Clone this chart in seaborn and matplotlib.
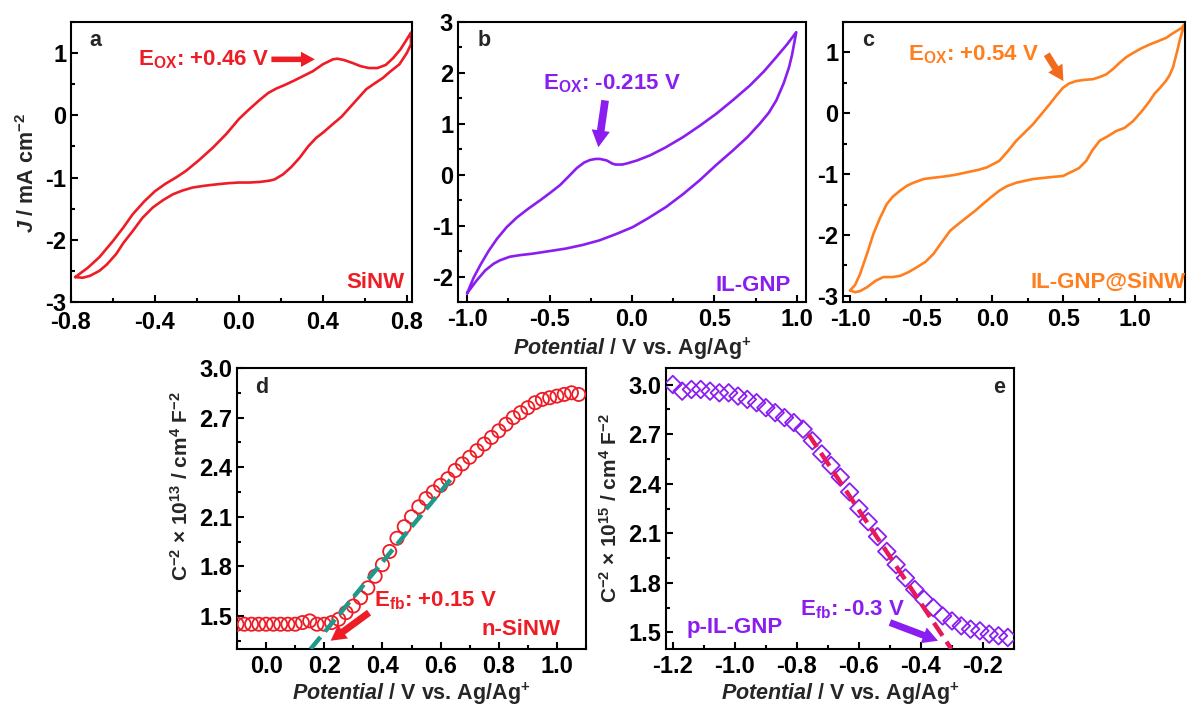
import numpy as np
import pandas as pd
import matplotlib
matplotlib.use("Agg")
import matplotlib.pyplot as plt
import seaborn as sns
from matplotlib.ticker import MultipleLocator, FormatStrFormatter

# ---------------- data ----------------
# Panel a: SiNW CV loop (forward then reverse)
a_fwd_x = [-0.78, -0.72, -0.665, -0.6, -0.55, -0.506, -0.45, -0.4, -0.35, -0.3, -0.251, -0.19, -0.124,
           -0.06, 0.0, 0.05, 0.1, 0.14, 0.178, 0.22, 0.258, 0.30, 0.353, 0.40, 0.448, 0.47, 0.50,
           0.543, 0.58, 0.62, 0.66, 0.70, 0.735, 0.77, 0.80, 0.82]
a_fwd_y = [-2.60, -2.45, -2.28, -2.02, -1.80, -1.59, -1.38, -1.22, -1.10, -1.00, -0.89, -0.72, -0.52,
           -0.30, -0.06, 0.10, 0.25, 0.36, 0.43, 0.49, 0.55, 0.62, 0.71, 0.82, 0.90, 0.91, 0.89,
           0.84, 0.79, 0.76, 0.76, 0.81, 0.92, 1.06, 1.22, 1.33]
a_rev_x = [0.82, 0.80, 0.765, 0.72, 0.686, 0.65, 0.607, 0.567, 0.527, 0.49, 0.448, 0.40, 0.369, 0.33,
           0.29, 0.25, 0.21, 0.17, 0.146, 0.10, 0.05, 0.0, -0.05, -0.108, -0.16, -0.22, -0.27,
           -0.315, -0.36, -0.41, -0.46, -0.506, -0.55, -0.585, -0.63, -0.665, -0.71, -0.744, -0.78]
a_rev_y = [1.14, 1.00, 0.82, 0.70, 0.60, 0.52, 0.42, 0.27, 0.12, -0.02, -0.14, -0.28, -0.36, -0.50,
           -0.68, -0.83, -0.95, -1.03, -1.05, -1.07, -1.08, -1.08, -1.09, -1.11, -1.13, -1.16, -1.21,
           -1.27, -1.36, -1.48, -1.65, -1.86, -2.05, -2.23, -2.40, -2.50, -2.58, -2.61, -2.60]

# Panel b: IL-GNP CV loop
b_fwd_x = [-1.0, -0.96, -0.919, -0.87, -0.819, -0.76, -0.698, -0.63, -0.556, -0.49, -0.435, -0.38,
           -0.335, -0.29, -0.254, -0.22, -0.194, -0.153, -0.12, -0.10, -0.06, -0.032, 0.03, 0.109,
           0.2, 0.31, 0.41, 0.512, 0.61, 0.714, 0.80, 0.875, 0.94, 0.996]
b_fwd_y = [-2.33, -2.02, -1.77, -1.50, -1.26, -1.03, -0.84, -0.67, -0.50, -0.34, -0.20, -0.02,
           0.13, 0.24, 0.29, 0.31, 0.31, 0.28, 0.22, 0.20, 0.20, 0.22, 0.28, 0.38,
           0.53, 0.74, 0.96, 1.20, 1.46, 1.75, 2.03, 2.31, 2.56, 2.80]
b_rev_x = [0.996, 0.97, 0.952, 0.92, 0.875, 0.83, 0.774, 0.70, 0.613, 0.51, 0.41, 0.31, 0.208, 0.10,
           0.004, -0.10, -0.198, -0.30, -0.40, -0.50, -0.601, -0.68, -0.74, -0.80, -0.84, -0.89,
           -0.94, -0.975, -1.0]
b_rev_y = [2.80, 2.35, 2.11, 1.80, 1.46, 1.22, 1.00, 0.74, 0.48, 0.19, -0.11, -0.38, -0.63, -0.85,
           -1.03, -1.17, -1.29, -1.38, -1.45, -1.50, -1.55, -1.58, -1.61, -1.68, -1.75, -1.88,
           -2.07, -2.22, -2.33]

# Panel c: IL-GNP@SiNW CV loop
c_fwd_x = [-1.0, -0.965, -0.93, -0.88, -0.836, -0.79, -0.742, -0.70, -0.648, -0.60, -0.554, -0.484,
           -0.42, -0.343, -0.26, -0.18, -0.10, -0.04, 0.05, 0.11, 0.169, 0.23, 0.286, 0.35, 0.403,
           0.45, 0.497, 0.54, 0.59, 0.65, 0.707, 0.76, 0.801, 0.85, 0.895, 0.94, 0.989, 1.05,
           1.106, 1.16, 1.223, 1.26, 1.294, 1.33, 1.35]
c_fwd_y = [-2.91, -2.82, -2.64, -2.30, -1.98, -1.72, -1.49, -1.37, -1.27, -1.19, -1.14, -1.08,
           -1.06, -1.04, -1.01, -0.97, -0.93, -0.89, -0.78, -0.62, -0.45, -0.31, -0.18, 0.00, 0.15,
           0.29, 0.42, 0.49, 0.53, 0.55, 0.56, 0.60, 0.64, 0.73, 0.83, 0.92, 0.99, 1.07,
           1.13, 1.18, 1.24, 1.30, 1.35, 1.40, 1.46]
c_rev_x = [1.35, 1.33, 1.317, 1.30, 1.27, 1.245, 1.22, 1.18, 1.14, 1.106, 1.05, 0.989, 0.93, 0.872,
           0.81, 0.755, 0.70, 0.661, 0.61, 0.567, 0.497, 0.403, 0.286, 0.169, 0.10, 0.05, -0.01,
           -0.066, -0.12, -0.18, -0.24, -0.297, -0.35, -0.414, -0.47, -0.531, -0.59, -0.648, -0.70,
           -0.766, -0.82, -0.883, -0.93, -0.965, -1.0]
c_rev_y = [1.46, 1.30, 1.19, 1.02, 0.75, 0.62, 0.53, 0.42, 0.32, 0.20, 0.03, -0.13, -0.24, -0.29,
           -0.38, -0.45, -0.62, -0.78, -0.90, -0.95, -1.03, -1.05, -1.08, -1.14, -1.20, -1.27, -1.38,
           -1.49, -1.60, -1.71, -1.82, -1.93, -2.10, -2.31, -2.44, -2.53, -2.61, -2.67, -2.69,
           -2.69, -2.75, -2.86, -2.92, -2.94, -2.91]

# Panel d: n-SiNW Mott-Schottky
d_x = [-0.1, -0.075, -0.05, -0.025, 0.0, 0.025, 0.05, 0.075, 0.1, 0.125, 0.15, 0.175, 0.2, 0.225,
       0.25, 0.275, 0.3, 0.325, 0.35, 0.375, 0.4, 0.425, 0.45, 0.475, 0.5, 0.525, 0.55, 0.575,
       0.6, 0.625, 0.65, 0.675, 0.7, 0.725, 0.75, 0.775, 0.8, 0.825, 0.85, 0.875, 0.9, 0.925,
       0.95, 0.975, 1.0, 1.025, 1.05, 1.075]
d_y = [1.45, 1.45, 1.45, 1.45, 1.45, 1.45, 1.45, 1.45, 1.45, 1.46, 1.47, 1.45, 1.45, 1.46,
       1.48, 1.52, 1.56, 1.61, 1.67, 1.74, 1.81, 1.89, 1.97, 2.04, 2.10, 2.16, 2.21, 2.25,
       2.29, 2.33, 2.38, 2.42, 2.46, 2.50, 2.54, 2.58, 2.62, 2.66, 2.70, 2.73, 2.76, 2.79,
       2.81, 2.82, 2.83, 2.84, 2.85, 2.84]
d_fit_x = [0.153, 0.646]
d_fit_y = [1.30, 2.35]

# Panel e: p-IL-GNP Mott-Schottky
e_x = [-1.20, -1.17, -1.14, -1.11, -1.08, -1.05, -1.02, -0.99, -0.96, -0.93, -0.90, -0.87, -0.84,
       -0.81, -0.78, -0.75, -0.72, -0.69, -0.66, -0.63, -0.60, -0.57, -0.54, -0.51, -0.48, -0.45,
       -0.42, -0.39, -0.36, -0.33, -0.30, -0.27, -0.24, -0.21, -0.18, -0.15, -0.12]
e_y = [3.00, 2.96, 2.97, 2.97, 2.96, 2.95, 2.95, 2.93, 2.91, 2.89, 2.86, 2.83, 2.80,
       2.77, 2.73, 2.66, 2.58, 2.51, 2.44, 2.35, 2.25, 2.17, 2.08, 1.99, 1.91, 1.83,
       1.76, 1.70, 1.65, 1.60, 1.57, 1.54, 1.52, 1.51, 1.49, 1.48, 1.47]
e_fit_x = [-0.763, -0.302]
e_fit_y = [2.70, 1.40]

RED = "#ee1c25"
PURPLE = "#8a1ef0"
ORANGE = "#ff7f1e"
ORANGE_D = "#f26a1b"
TEAL = "#1f9a8a"
PINK = "#e8195a"

# ---------------- style ----------------
sns.set_theme(style="ticks")
plt.rcParams.update({
    "font.family": ["Liberation Sans", "DejaVu Sans"],
    "font.weight": "bold",
    "axes.labelweight": "bold",
    "mathtext.fontset": "custom",
    "mathtext.rm": "Liberation Sans:bold",
    "mathtext.bf": "Liberation Sans:bold",
    "mathtext.sf": "Liberation Sans:bold",
    "mathtext.it": "Liberation Sans:bold:italic",
    "axes.unicode_minus": False,
    "axes.facecolor": "white",
    "figure.facecolor": "white",
})

fig = plt.figure(figsize=(11.87, 7.06), dpi=100)
ax_a = fig.add_axes([71 / 1187, 1 - 302 / 706, 341 / 1187, 280 / 706])
ax_b = fig.add_axes([458 / 1187, 1 - 302 / 706, 348 / 1187, 280 / 706])
ax_c = fig.add_axes([843 / 1187, 1 - 302 / 706, 342 / 1187, 280 / 706])
ax_d = fig.add_axes([237 / 1187, 1 - 649 / 706, 349 / 1187, 281 / 706])
ax_e = fig.add_axes([666 / 1187, 1 - 649 / 706, 348 / 1187, 281 / 706])

TICK = 17
LAB = 15.5
TXT = 16
LET = 15.5


def loop_df(fx, fy, rx, ry):
    x = list(fx) + list(rx)
    y = list(fy) + list(ry)
    return pd.DataFrame({"x": x, "y": y, "i": np.arange(len(x))})


def style(ax, xmaj, xmin, ymaj, ymin, xfmt, yfmt, xpad=4.5):
    ax.xaxis.set_major_locator(MultipleLocator(xmaj))
    ax.xaxis.set_minor_locator(MultipleLocator(xmin))
    ax.yaxis.set_major_locator(MultipleLocator(ymaj))
    ax.yaxis.set_minor_locator(MultipleLocator(ymin))
    ax.xaxis.set_major_formatter(FormatStrFormatter(xfmt))
    ax.yaxis.set_major_formatter(FormatStrFormatter(yfmt))
    ax.tick_params(which="both", direction="in", top=False, right=False,
                   width=1.5, color="black", labelsize=TICK, labelcolor="black")
    ax.tick_params(which="major", length=5)
    ax.tick_params(axis="x", which="major", pad=xpad)
    ax.tick_params(axis="y", which="major", pad=3.5)
    ax.tick_params(which="minor", length=3)
    for lab in ax.get_xticklabels() + ax.get_yticklabels():
        lab.set_fontweight("bold")
    for s in ax.spines.values():
        s.set_visible(True)
        s.set_linewidth(1.5)
        s.set_color("black")
    ax.set_xlabel("")
    ax.set_ylabel("")


def arrow(ax, start, end, color, ms=20,
          style_="simple,head_length=0.55,head_width=0.6,tail_width=0.25"):
    ax.annotate("", xy=end, xytext=start,
                arrowprops=dict(arrowstyle=style_, color=color, mutation_scale=ms,
                                shrinkA=0, shrinkB=0, lw=0))


XLAB = r"$\mathit{Potential}$ / V vs. Ag/Ag$^{\mathrm{+}}$"

# ---- panel a ----
sns.lineplot(data=loop_df(a_fwd_x, a_fwd_y, a_rev_x, a_rev_y), x="x", y="y", sort=False,
             estimator=None, color=RED, lw=1.9, ax=ax_a)
ax_a.set_xlim(-0.8, 0.825)
ax_a.set_ylim(-3, 1.5)
style(ax_a, 0.4, 0.2, 1, 0.5, "%.1f", "%d", xpad=6.5)
ax_a.set_ylabel(r"$\mathit{J}$ / mA cm$^{\mathrm{-2}}$", fontsize=LAB)
ax_a.yaxis.set_label_coords(-0.095, 0.46)
ax_a.text(0.055, 0.935, "a", transform=ax_a.transAxes, fontsize=LET, fontweight="bold",
          ha="left", va="center")
ax_a.text(-0.48, 0.89, r"E$_{\mathrm{OX}}$: +0.46 V", color=RED, fontsize=TXT,
          ha="left", va="center")
arrow(ax_a, (0.155, 0.90), (0.362, 0.90), RED,
      style_="simple,head_length=0.5,head_width=0.55,tail_width=0.2")
ax_a.text(0.79, -2.68, "SiNW", color=RED, fontsize=TXT, ha="right", va="center")

# ---- panel b ----
sns.lineplot(data=loop_df(b_fwd_x, b_fwd_y, b_rev_x, b_rev_y), x="x", y="y", sort=False,
             estimator=None, color=PURPLE, lw=1.9, ax=ax_b)
ax_b.set_xlim(-1.055, 1.055)
ax_b.set_ylim(-2.5, 3.0)
style(ax_b, 0.5, 0.25, 1, 0.5, "%.1f", "%d")
ax_b.set_xlabel(XLAB, fontsize=LAB, labelpad=3)
ax_b.text(0.055, 0.935, "b", transform=ax_b.transAxes, fontsize=LET, fontweight="bold",
          ha="left", va="center")
ax_b.text(-0.54, 1.78, r"E$_{\mathrm{OX}}$: -0.215 V", color=PURPLE, fontsize=TXT,
          ha="left", va="center")
arrow(ax_b, (-0.163, 1.46), (-0.204, 0.54), PURPLE, ms=22)
ax_b.text(0.966, -2.17, "IL-GNP", color=PURPLE, fontsize=TXT, ha="right", va="center")

# ---- panel c ----
sns.lineplot(data=loop_df(c_fwd_x, c_fwd_y, c_rev_x, c_rev_y), x="x", y="y", sort=False,
             estimator=None, color=ORANGE, lw=1.9, ax=ax_c)
ax_c.set_xlim(-1.05, 1.355)
ax_c.set_ylim(-3.1, 1.5)
style(ax_c, 0.5, 0.25, 1, 0.5, "%.1f", "%d")
ax_c.text(0.055, 0.935, "c", transform=ax_c.transAxes, fontsize=LET, fontweight="bold",
          ha="left", va="center")
ax_c.text(-0.59, 0.97, r"E$_{\mathrm{OX}}$: +0.54 V", color=ORANGE, fontsize=TXT,
          ha="left", va="center")
arrow(ax_c, (0.383, 0.97), (0.50, 0.53), ORANGE_D, ms=20)
ax_c.text(1.356, -2.78, "IL-GNP@SiNW", color=ORANGE, fontsize=TXT, ha="right", va="center")

# ---- panel d ----
sns.scatterplot(x=d_x, y=d_y, ax=ax_d, marker="o", s=90, color=RED, facecolor="none",
                edgecolor=RED, linewidth=1.3, zorder=3)
sns.lineplot(x=d_fit_x, y=d_fit_y, ax=ax_d, color=TEAL, lw=3.2, sort=False, estimator=None,
             zorder=4)
ax_d.lines[-1].set_dashes((3.5, 1.6))
ax_d.set_xlim(-0.1, 1.1)
ax_d.set_ylim(1.3, 3.0)
style(ax_d, 0.2, 0.1, 0.3, 0.15, "%.1f", "%.1f")
ax_d.set_xlabel(XLAB, fontsize=LAB, labelpad=1.5)
ax_d.set_ylabel(r"C$^{\mathrm{-2}}$ × 10$^{\mathrm{13}}$ / cm$^{\mathrm{4}}$ F$^{\mathrm{-2}}$",
                fontsize=15)
ax_d.yaxis.set_label_coords(-0.13, 0.58)
ax_d.text(0.052, 0.93, "d", transform=ax_d.transAxes, fontsize=LET, fontweight="bold",
          ha="left", va="center")
ax_d.text(0.371, 1.59, r"E$_{\mathrm{fb}}$: +0.15 V", color=RED, fontsize=TXT,
          ha="left", va="center", zorder=5)
arrow(ax_d, (0.354, 1.52), (0.222, 1.35), RED, ms=20)
ax_d.text(1.014, 1.42, "n-SiNW", color=RED, fontsize=TXT, ha="right", va="center")

# ---- panel e ----
sns.scatterplot(x=e_x, y=e_y, ax=ax_e, marker="D", s=80, color=PURPLE, facecolor="none",
                edgecolor=PURPLE, linewidth=1.3, zorder=3)
sns.lineplot(x=e_fit_x, y=e_fit_y, ax=ax_e, color=PINK, lw=3.2, sort=False, estimator=None,
             zorder=4)
ax_e.lines[-1].set_dashes((3.5, 1.6))
ax_e.set_xlim(-1.222, -0.1)
ax_e.set_ylim(1.4, 3.1)
style(ax_e, 0.2, 0.1, 0.3, 0.15, "%.1f", "%.1f")
ax_e.set_xlabel(XLAB, fontsize=LAB, labelpad=1.5)
ax_e.set_ylabel(r"C$^{\mathrm{-2}}$ × 10$^{\mathrm{15}}$ / cm$^{\mathrm{4}}$ F$^{\mathrm{-2}}$",
                fontsize=15, labelpad=5)
ax_e.text(0.975, 0.93, "e", transform=ax_e.transAxes, fontsize=LET, fontweight="bold",
          ha="right", va="center")
ax_e.text(-0.79, 1.64, r"E$_{\mathrm{fb}}$: -0.3 V", color=PURPLE, fontsize=TXT,
          ha="left", va="center")
arrow(ax_e, (-0.50, 1.56), (-0.345, 1.45), PURPLE, ms=20)
ax_e.text(-1.155, 1.53, "p-IL-GNP", color=PURPLE, fontsize=TXT, ha="left", va="center")

fig.savefig("out.png", dpi=100, facecolor="white")
